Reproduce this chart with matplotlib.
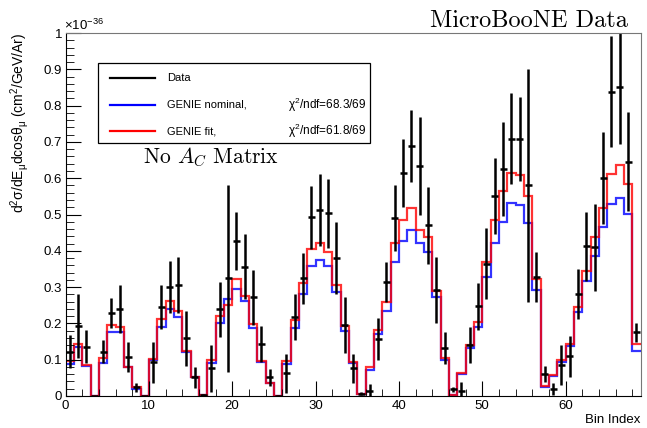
import numpy as np
import matplotlib
matplotlib.use("Agg")
import matplotlib.pyplot as plt
from matplotlib.ticker import MultipleLocator, FuncFormatter
from matplotlib.patches import Rectangle
from matplotlib.lines import Line2D

plt.rcParams['font.family'] = ['Liberation Sans', 'DejaVu Sans']
plt.rcParams['mathtext.fontset'] = 'custom'
plt.rcParams['mathtext.rm'] = 'Liberation Sans'
plt.rcParams['mathtext.it'] = 'Liberation Sans:italic'
plt.rcParams['mathtext.default'] = 'regular'

# 数据 (单位 1e-36 cm2/GeV/Ar)
data = [0.122, 0.193, 0.136, 0.0, 0.122, 0.228, 0.240, 0.108, 0.024, 0.0,
        0.093, 0.246, 0.300, 0.306, 0.159, 0.051, 0.003, 0.076, 0.239, 0.324,
        0.427, 0.356, 0.272, 0.143, 0.051, 0.0, 0.062, 0.217, 0.324, 0.492,
        0.512, 0.503, 0.381, 0.196, 0.076, 0.006, 0.014, 0.157, 0.313, 0.490,
        0.614, 0.688, 0.633, 0.470, 0.292, 0.132, 0.018, 0.014, 0.141, 0.247,
        0.365, 0.552, 0.626, 0.709, 0.709, 0.580, 0.327, 0.060, 0.020, 0.085,
        0.109, 0.281, 0.412, 0.410, 0.600, 0.838, 0.852, 0.646, 0.175]
data_err = [0.046, 0.088, 0.045, 0.0, 0.032, 0.041, 0.066, 0.041, 0.013, 0.0,
            0.057, 0.061, 0.071, 0.076, 0.075, 0.030, 0.003, 0.064, 0.076, 0.257,
            0.079, 0.089, 0.076, 0.049, 0.023, 0.002, 0.055, 0.064, 0.070, 0.086,
            0.100, 0.095, 0.099, 0.078, 0.041, 0.004, 0.020, 0.058, 0.055, 0.090,
            0.094, 0.099, 0.135, 0.107, 0.092, 0.044, 0.008, 0.025, 0.050, 0.064,
            0.097, 0.105, 0.130, 0.125, 0.116, 0.320, 0.069, 0.022, 0.016, 0.055,
            0.057, 0.069, 0.094, 0.120, 0.127, 0.153, 0.157, 0.137, 0.027]
genie_nominal = [0.089, 0.136, 0.084, 0.0, 0.092, 0.176, 0.177, 0.079, 0.020, 0.0,
                 0.100, 0.191, 0.241, 0.218, 0.121, 0.052, 0.002, 0.091, 0.200, 0.268,
                 0.296, 0.262, 0.186, 0.093, 0.037, 0.0, 0.088, 0.187, 0.280, 0.358,
                 0.375, 0.359, 0.286, 0.180, 0.092, 0.005, 0.072, 0.170, 0.235, 0.368,
                 0.428, 0.456, 0.421, 0.396, 0.273, 0.100, 0.003, 0.060, 0.133, 0.190,
                 0.327, 0.422, 0.479, 0.531, 0.527, 0.476, 0.291, 0.024, 0.054, 0.095,
                 0.138, 0.232, 0.318, 0.387, 0.465, 0.530, 0.545, 0.502, 0.124]
genie_fit = [0.097, 0.142, 0.085, 0.0, 0.104, 0.195, 0.191, 0.080, 0.024, 0.0,
             0.103, 0.212, 0.263, 0.235, 0.124, 0.052, 0.002, 0.099, 0.221, 0.250,
             0.323, 0.276, 0.198, 0.096, 0.037, 0.0, 0.096, 0.210, 0.310, 0.404,
             0.422, 0.398, 0.307, 0.192, 0.093, 0.006, 0.079, 0.181, 0.258, 0.421,
             0.485, 0.518, 0.456, 0.438, 0.290, 0.106, 0.004, 0.064, 0.141, 0.205,
             0.368, 0.484, 0.564, 0.614, 0.610, 0.552, 0.322, 0.027, 0.057, 0.099,
             0.143, 0.244, 0.345, 0.437, 0.517, 0.612, 0.637, 0.585, 0.143]
chi2_labels = ["χ$^{2}$/ndf=68.3/69", "χ$^{2}$/ndf=61.8/69"]

n_bins = len(data)
edges = np.arange(n_bins + 1)
centers = np.arange(n_bins) + 0.5

fig = plt.figure(figsize=(6.47, 4.28), dpi=100)
ax = fig.add_axes([65.5 / 647, 32 / 428, 575 / 647, 363 / 428])

ax.stairs(genie_nominal, edges, color='#0000ff', lw=1.6, alpha=0.8, baseline=None)
ax.stairs(genie_fit, edges, color='#ff0000', lw=1.6, alpha=0.8, baseline=None)
ax.errorbar(centers, data, yerr=data_err, xerr=0.42, fmt='none',
            ecolor='black', elinewidth=1.8, capsize=0)

ax.set_xlim(0, n_bins)
ax.set_ylim(0, 1)
ax.xaxis.set_major_locator(MultipleLocator(10))
ax.xaxis.set_minor_locator(MultipleLocator(2))
ax.set_yticks(np.round(np.arange(0, 1.05, 0.1), 2))
ax.yaxis.set_minor_locator(MultipleLocator(0.02))
ax.yaxis.set_major_formatter(FuncFormatter(lambda v, p: '%g' % round(v, 2)))
ax.tick_params(which='both', direction='in', top=False, right=False, labelsize=9.5)
ax.tick_params(axis='y', which='major', length=11, pad=2.5)
ax.tick_params(axis='y', which='minor', length=6)
ax.tick_params(axis='x', which='major', length=11, pad=3)
ax.tick_params(axis='x', which='minor', length=5)
for s in ['top', 'right']:
    ax.spines[s].set_color('#777777')

ax.set_xlabel('Bin Index', fontsize=9.5, loc='right', labelpad=1)
ax.set_ylabel(r'd$^{2}$σ/dE$_{μ}$dcosθ$_{μ}$ (cm$^{2}$/GeV/Ar)', fontsize=10,
              loc='top', labelpad=9)
ax.text(-0.003, 1.0, r'$\times$10$^{-36}$', transform=ax.transAxes, fontsize=9.5,
        ha='left', va='bottom')

fig.text(0.9706, 0.937, 'MicroBooNE Data', family='cmr10', fontsize=17.5,
         ha='right', va='baseline')
ax.text(0.135, 0.656, r'No $\mathit{A}_{\mathit{C}}$ Matrix', family='cmr10',
        math_fontfamily='cm', fontsize=15.5, transform=ax.transAxes,
        ha='left', va='center')

# 图例框
ax.add_patch(Rectangle((0.0565, 0.697), 0.473, 0.22, transform=ax.transAxes,
                       facecolor='white', edgecolor='black', lw=0.9, zorder=5))
rows = [(0.876, 'black', 'Data', None),
        (0.802, '#0000ff', 'GENIE nominal,', chi2_labels[0]),
        (0.730, '#ff0000', 'GENIE fit,', chi2_labels[1])]
for yy, c, lab, chi in rows:
    ax.add_line(Line2D([0.0774, 0.1557], [yy, yy], transform=ax.transAxes,
                       color=c, lw=1.6, zorder=6))
    ax.text(0.176, yy, lab, transform=ax.transAxes, fontsize=8, va='center', zorder=6)
    if chi:
        ax.text(0.5226, yy, chi, transform=ax.transAxes, fontsize=8.5,
                va='center', ha='right', zorder=6)

fig.savefig('out.png', dpi=100)
